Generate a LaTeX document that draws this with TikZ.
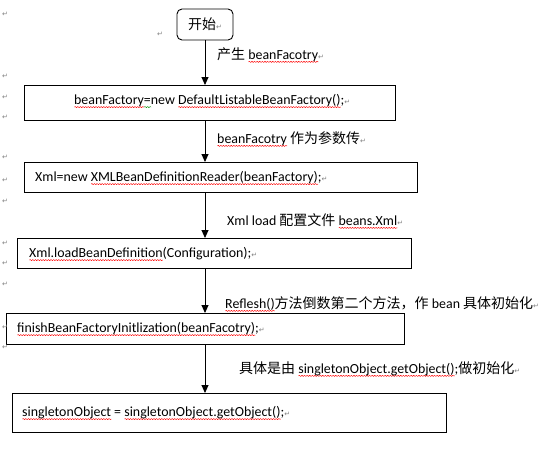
\documentclass[tikz,border=0pt]{standalone}
\usepackage{fontspec}
\setmainfont{Carlito}
\newfontfamily\cjk{Noto Sans CJK SC}
\newfontfamily\dvs{DejaVu Sans}
\usetikzlibrary{arrows.meta,decorations.pathmorphing}
\newcommand\zh[1]{{\cjk\fontsize{14}{16}\selectfont #1}}
\newcommand\rmk{{\dvs\fontsize{7}{7}\selectfont\textcolor{gray}{↵}}}
\newlength\wvlen
\newcommand\wv[2][red]{\settowidth\wvlen{#2}\rlap{\tikz[baseline=0pt]\draw[#1, line width=0.45pt, line join=round, decorate, decoration={snake, amplitude=0.6pt, segment length=2.6pt}] (0pt,-2.8pt) -- (\wvlen,-2.8pt);}#2}
\begin{document}
\begin{tikzpicture}[x=1pt,y=-1pt, font=\fontsize{13.9}{16}\selectfont,
  box/.style={draw, line width=0.9pt, inner sep=0pt, anchor=north west},
  startbox/.style={draw, line width=0.9pt, rounded corners=5pt, minimum width=56pt, minimum height=31pt, inner sep=0pt},
  txt/.style={anchor=west, inner sep=0pt},
  arr/.style={-{Triangle[width=7pt,length=8pt]}, line width=0.9pt},
  mk/.style={inner sep=0pt, text=gray, font=\dvs\fontsize{7}{7}\selectfont}]
\useasboundingbox (0,0) rectangle (559,456);

% start
\node[startbox] (start) at (205,24.5) {\zh{开始}\rmk};

% boxes
\node[box, minimum width=371pt, minimum height=35pt] (b1) at (24,85) {};
\node[box, minimum width=393pt, minimum height=30pt] (b2) at (24,162) {};
\node[box, minimum width=394pt, minimum height=30pt] (b3) at (17,238) {};
\node[box, minimum width=398pt, minimum height=31pt] (b4) at (6,313) {};
\node[box, minimum width=434pt, minimum height=39pt] (b5) at (12,393) {};

% box texts
\node[txt] (t1) at (74,101) {\wv{beanFactory}\wv[green!55!black]{=}new \wv{DefaultListableBeanFactory()};\rmk};
\node[txt] (t2) at (35,178) {Xml=new \wv{XMLBeanDefinitionReader(beanFactory)};\rmk};
\node[txt] (t3) at (29,254) {\wv{Xml.loadBeanDefinition}(Configuration);\rmk};
\node[txt] (t4) at (17,329) {\wv{finishBeanFactoryInitlization(beanFacotry)};\rmk};
\node[txt] (t5) at (22,413) {\wv{singletonObject} = \wv{singletonObject.getObject()};\rmk};

% arrows
\draw[arr] (start.south) -- (start.south |- b1.north);
\draw[arr] (start.south |- b1.south) -- (start.south |- b2.north);
\draw[arr] (start.south |- b2.south) -- (start.south |- b3.north);
\draw[arr] (start.south |- b3.south) -- (start.south |- b4.north);
\draw[arr] (start.south |- b4.south) -- (start.south |- b5.north);

% labels
\node[txt] (l1) at (217,55) {\zh{产生} \wv{beanFacotry}\rmk};
\node[txt] (l2) at (217,139) {\wv{beanFacotry} \zh{作为参数传}\rmk};
\node[txt] (l3) at (227,221) {Xml load \zh{配置文件} \wv{beans.Xml}\rmk};
\node[txt] (l4) at (225,304) {\wv{Reflesh()}\zh{方法倒数第二个方法，作} bean \zh{具体初始化}\rmk};
\node[txt] (l5) at (239,369) {\zh{具体是由} \wv{singletonObject.getObject()};\zh{做初始化}\rmk};

% paragraph marks
\foreach \i/\yy in {1/14,2/76,3/97,4/117,5/157,6/180,7/201,8/243,9/263,10/284,11/327,12/347}
  \node[mk] (m\i) at (5,\yy) {↵};
\node[mk] (m13) at (160,34) {↵};
\end{tikzpicture}
\end{document}
